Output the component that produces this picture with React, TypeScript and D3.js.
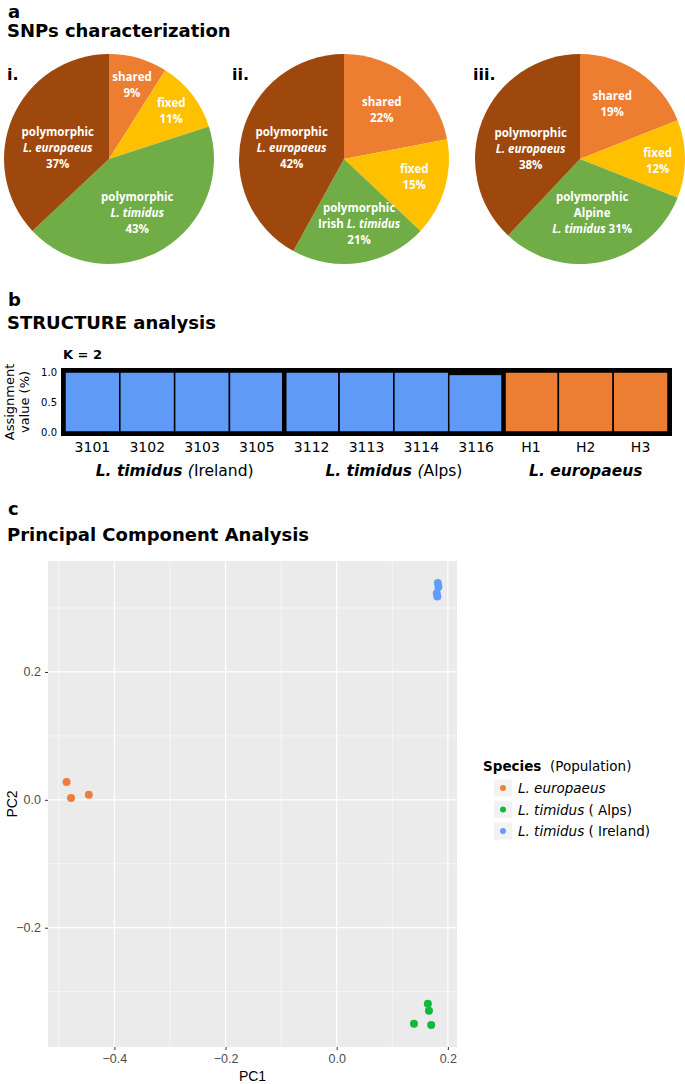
import { useEffect, useRef } from "react";
import * as d3 from "d3";

// ---------- a: SNPs characterization ----------
type Seg = { t: string; it?: boolean; b?: boolean };

const pieTitles = ["i.", "ii.", "iii."];
const sliceNames = ["shared", "fixed", "polymorphic L. timidus", "polymorphic L. europaeus"];
const pieI = [9, 11, 43, 37];
const pieII = [22, 15, 21, 42];
const pieIII = [19, 12, 31, 38];
const sliceColors = ["#ED7D31", "#FFC000", "#70AD47", "#9E480E"];

// "{p}" is replaced by the slice value
const labelsI: Seg[][][] = [
  [[{ t: "shared" }], [{ t: "{p}%" }]],
  [[{ t: "fixed" }], [{ t: "{p}%" }]],
  [[{ t: "polymorphic" }], [{ t: "L. timidus", it: true }], [{ t: "{p}%" }]],
  [[{ t: "polymorphic" }], [{ t: "L. europaeus", it: true }], [{ t: "{p}%" }]],
];
const labelsII: Seg[][][] = [
  [[{ t: "shared" }], [{ t: "{p}%" }]],
  [[{ t: "fixed" }], [{ t: "{p}%" }]],
  [[{ t: "polymorphic" }], [{ t: "Irish " }, { t: "L. timidus", it: true }], [{ t: "{p}%" }]],
  [[{ t: "polymorphic" }], [{ t: "L. europaeus", it: true }], [{ t: "{p}%" }]],
];
const labelsIII: Seg[][][] = [
  [[{ t: "shared" }], [{ t: "{p}%" }]],
  [[{ t: "fixed" }], [{ t: "{p}%" }]],
  [[{ t: "polymorphic" }], [{ t: "Alpine" }], [{ t: "L. timidus", it: true }, { t: " {p}%" }]],
  [[{ t: "polymorphic" }], [{ t: "L. europaeus", it: true }], [{ t: "{p}%" }]],
];

// ---------- b: STRUCTURE ----------
const samples = ["3101", "3102", "3103", "3105", "3112", "3113", "3114", "3116", "H1", "H2", "H3"];
const sampleGroup = [0, 0, 0, 0, 1, 1, 1, 1, 2, 2, 2];
const clusterBlue = [1, 1, 1, 1, 1, 1, 1, 0.96, 0, 0, 0];
const clusterOrange = [0, 0, 0, 0, 0, 0, 0, 0, 1, 1, 1];
const assignTicks = [0, 0.5, 1];
const groupLabels: Seg[][] = [
  [{ t: "L. timidus ", it: true, b: true }, { t: "(", it: true }, { t: "Ireland)" }],
  [{ t: "L. timidus ", it: true, b: true }, { t: "(", it: true }, { t: "Alps)" }],
  [{ t: "L. europaeus", it: true, b: true }],
];

// ---------- c: PCA ----------
const speciesNames = ["L. europaeus", "L. timidus ( Alps)", "L. timidus ( Ireland)"];
const pc1Europaeus = [-0.486, -0.478, -0.446];
const pc2Europaeus = [0.028, 0.003, 0.008];
const pc1Alps = [0.139, 0.164, 0.166, 0.17];
const pc2Alps = [-0.35, -0.319, -0.33, -0.352];
const pc1Ireland = [0.182, 0.183, 0.18, 0.181];
const pc2Ireland = [0.339, 0.333, 0.323, 0.318];
const pc1Ticks = [-0.4, -0.2, 0, 0.2];
const pc2Ticks = [-0.2, 0, 0.2];
const speciesColors = ["#F07C3E", "#12B83C", "#619CFF"];

// layout
const TITLE_FONT = "'DejaVu Sans', Verdana, sans-serif";
const PIE_FONT = "'Open Sans', sans-serif";
const GG_FONT = "'Liberation Sans', Arial, sans-serif";
const pieCx = [109, 344, 580];
const pieCy = 159;
const pieR = 105;
const numeralX = [7, 232, 473];
// [fraction of radius, angle tweak in degrees] per slice
const labelPlace = [
  [[0.74, 1], [0.75, 0], [0.58, 3], [0.5, -11]],
  [[0.59, -2], [0.69, -2], [0.64, -4], [0.51, -2.4]],
  [[0.61, -4], [0.74, 1.5], [0.53, 0], [0.48, -10]],
];

function addSegs(sel: d3.Selection<SVGTextElement, unknown, null, undefined>, segs: Seg[], p?: number) {
  segs.forEach((s) => {
    sel
      .append("tspan")
      .attr("font-style", s.it ? "italic" : "normal")
      .attr("font-weight", s.b ? "bold" : null)
      .text(p === undefined ? s.t : s.t.replace("{p}", String(p)));
  });
}

export default function App() {
  const svgRef = useRef<SVGSVGElement>(null);

  useEffect(() => {
    if (!svgRef.current) return;
    const svg = d3.select(svgRef.current);
    svg.selectAll("*").remove();

    const heading = (letter: string, title: string, y1: number, y2: number) => {
      svg.append("text").attr("x", 8).attr("y", y1).attr("font-family", TITLE_FONT)
        .attr("font-weight", "bold").attr("font-size", 18).text(letter);
      svg.append("text").attr("x", 7).attr("y", y2).attr("font-family", TITLE_FONT)
        .attr("font-weight", "bold").attr("font-size", 18).text(title);
    };

    // ===== a =====
    heading("a", "SNPs characterization", 18, 37);
    const pies = [pieI, pieII, pieIII];
    const pieLabels = [labelsI, labelsII, labelsIII];
    const pieGen = d3.pie<number>().sort(null).value((d) => d);
    const arcGen = d3.arc<d3.PieArcDatum<number>>().innerRadius(0).outerRadius(pieR);

    pies.forEach((vals, pi) => {
      svg.append("text").attr("x", numeralX[pi]).attr("y", 80).attr("font-family", TITLE_FONT)
        .attr("font-weight", "bold").attr("font-size", 16).text(pieTitles[pi]);
      const g = svg.append("g").attr("transform", `translate(${pieCx[pi]},${pieCy})`);
      const arcs = pieGen(vals);
      g.selectAll("path.slice")
        .data(arcs)
        .enter()
        .append("path")
        .attr("class", "slice")
        .attr("d", arcGen)
        .attr("fill", (_, i) => sliceColors[i])
        .append("title")
        .text((d, i) => `${sliceNames[i]}: ${d.data}%`);

      arcs.forEach((a, si) => {
        const [frac, dTheta] = labelPlace[pi][si];
        const ang = (a.startAngle + a.endAngle) / 2 + (dTheta * Math.PI) / 180;
        const r = frac * pieR;
        const lx = Math.sin(ang) * r;
        const ly = -Math.cos(ang) * r;
        const lines = pieLabels[pi][si];
        const n = lines.length;
        lines.forEach((segs, k) => {
          const t = g.append("text")
            .attr("x", lx)
            .attr("y", ly + (k - (n - 1) / 2) * 16 + 4)
            .attr("text-anchor", "middle")
            .attr("font-family", PIE_FONT)
            .attr("font-weight", "bold")
            .attr("font-size", 11.5)
            .attr("fill", "#fff");
          addSegs(t, segs, a.data);
        });
      });
    });

    // ===== b =====
    heading("b", "STRUCTURE analysis", 306, 329);
    svg.append("text").attr("x", 63).attr("y", 359).attr("font-family", TITLE_FONT)
      .attr("font-weight", "bold").attr("font-size", 13).text("K = 2");

    const plotL = 65, plotR = 668, plotT = 372, plotB = 432;
    const xs = d3.scaleBand<string>().domain(samples).range([plotL, plotR]).padding(0);
    const ys = d3.scaleLinear().domain([0, 1]).range([plotB, plotT]);

    const sg = svg.append("g");
    sg.append("rect").attr("x", plotL).attr("y", plotT).attr("width", plotR - plotL)
      .attr("height", plotB - plotT).attr("fill", "#000");

    samples.forEach((s, i) => {
      const x0 = xs(s) || 0;
      const blueTop = ys(clusterBlue[i]);
      if (clusterBlue[i] > 0) {
        sg.append("rect").attr("x", x0).attr("y", blueTop).attr("width", xs.bandwidth())
          .attr("height", plotB - blueTop).attr("fill", "#5F9AF6")
          .attr("stroke", "#000").attr("stroke-width", 1.5);
      }
      if (clusterOrange[i] > 0) {
        const oTop = ys(clusterBlue[i] + clusterOrange[i]);
        sg.append("rect").attr("x", x0).attr("y", oTop).attr("width", xs.bandwidth())
          .attr("height", blueTop - oTop).attr("fill", "#EC7E34")
          .attr("stroke", "#000").attr("stroke-width", 1.5);
      }
    });

    // group dividers and frame
    const groupIdx = d3.range(3);
    groupIdx.forEach((gi) => {
      const members = samples.filter((_, i) => sampleGroup[i] === gi);
      const gx0 = xs(members[0]) || 0;
      const gx1 = (xs(members[members.length - 1]) || 0) + xs.bandwidth();
      if (gi > 0) {
        sg.append("line").attr("x1", gx0).attr("x2", gx0).attr("y1", plotT).attr("y2", plotB)
          .attr("stroke", "#000").attr("stroke-width", 4.5);
      }
      const t = sg.append("text").attr("x", (gx0 + gx1) / 2).attr("y", 476)
        .attr("text-anchor", "middle").attr("font-family", TITLE_FONT).attr("font-size", 15.5);
      addSegs(t, groupLabels[gi]);
    });
    sg.append("rect").attr("x", plotL - 2).attr("y", plotT - 2).attr("width", plotR - plotL + 4)
      .attr("height", plotB - plotT + 4).attr("fill", "none").attr("stroke", "#000").attr("stroke-width", 4);

    sg.selectAll("text.sample")
      .data(samples)
      .enter()
      .append("text")
      .attr("class", "sample")
      .attr("x", (d) => (xs(d) || 0) + xs.bandwidth() / 2)
      .attr("y", 452)
      .attr("text-anchor", "middle")
      .attr("font-family", TITLE_FONT)
      .attr("font-size", 14)
      .text((d) => d);

    const yAxisS = sg.append("g").attr("transform", `translate(${plotL - 2},0)`)
      .call(d3.axisLeft(ys).tickValues(assignTicks).tickFormat(d3.format(".1f")).tickSize(0).tickPadding(6));
    yAxisS.select(".domain").remove();
    yAxisS.selectAll("text").attr("font-family", TITLE_FONT).attr("font-size", 10).attr("fill", "#000");

    const yt = sg.append("text").attr("transform", `translate(14,${(plotT + plotB) / 2}) rotate(-90)`)
      .attr("text-anchor", "middle").attr("font-family", TITLE_FONT).attr("font-size", 13);
    yt.append("tspan").attr("x", 0).attr("y", 0).text("Assignment");
    yt.append("tspan").attr("x", 0).attr("y", 15).text("value (%)");

    // ===== c =====
    heading("c", "Principal Component Analysis", 515, 541);
    const panelL = 48, panelR = 457, panelT = 561, panelB = 1047;
    const allX = [...pc1Europaeus, ...pc1Alps, ...pc1Ireland];
    const allY = [...pc2Europaeus, ...pc2Alps, ...pc2Ireland];
    const [xmin, xmax] = d3.extent(allX) as [number, number];
    const [ymin, ymax] = d3.extent(allY) as [number, number];
    const xpad = (xmax - xmin) * 0.05;
    const ypad = (ymax - ymin) * 0.05;
    const px = d3.scaleLinear().domain([xmin - xpad, xmax + xpad]).range([panelL, panelR]);
    const py = d3.scaleLinear().domain([ymin - ypad, ymax + ypad]).range([panelB, panelT]);

    const pg = svg.append("g");
    pg.append("rect").attr("x", panelL).attr("y", panelT).attr("width", panelR - panelL)
      .attr("height", panelB - panelT).attr("fill", "#EBEBEB");

    const minorX = d3.range(pc1Ticks.length + 1).map((i) => pc1Ticks[0] - 0.1 + i * 0.2)
      .filter((v) => v > px.domain()[0] && v < px.domain()[1]);
    const minorY = d3.range(pc2Ticks.length + 1).map((i) => pc2Ticks[0] - 0.1 + i * 0.2)
      .filter((v) => v > py.domain()[0] && v < py.domain()[1]);

    pg.selectAll("line.minx").data(minorX).enter().append("line")
      .attr("x1", (d) => px(d)).attr("x2", (d) => px(d)).attr("y1", panelT).attr("y2", panelB)
      .attr("stroke", "#fff").attr("stroke-width", 0.6);
    pg.selectAll("line.miny").data(minorY).enter().append("line")
      .attr("y1", (d) => py(d)).attr("y2", (d) => py(d)).attr("x1", panelL).attr("x2", panelR)
      .attr("stroke", "#fff").attr("stroke-width", 0.6);
    pg.selectAll("line.majx").data(pc1Ticks).enter().append("line")
      .attr("x1", (d) => px(d)).attr("x2", (d) => px(d)).attr("y1", panelT).attr("y2", panelB)
      .attr("stroke", "#fff").attr("stroke-width", 1.2);
    pg.selectAll("line.majy").data(pc2Ticks).enter().append("line")
      .attr("y1", (d) => py(d)).attr("y2", (d) => py(d)).attr("x1", panelL).attr("x2", panelR)
      .attr("stroke", "#fff").attr("stroke-width", 1.2);

    const series = [
      { xs: pc1Europaeus, ys: pc2Europaeus },
      { xs: pc1Alps, ys: pc2Alps },
      { xs: pc1Ireland, ys: pc2Ireland },
    ];
    series.forEach((s, si) => {
      pg.selectAll(`circle.s${si}`)
        .data(s.xs.map((v, i) => [v, s.ys[i]]))
        .enter()
        .append("circle")
        .attr("cx", (d) => px(d[0]))
        .attr("cy", (d) => py(d[1]))
        .attr("r", 4)
        .attr("fill", speciesColors[si]);
    });

    const fmt = d3.format(".1f");
    const xAxis = pg.append("g").attr("transform", `translate(0,${panelB})`)
      .call(d3.axisBottom(px).tickValues(pc1Ticks).tickFormat((d) => fmt(d as number)).tickSize(3).tickPadding(4));
    const yAxis = pg.append("g").attr("transform", `translate(${panelL},0)`)
      .call(d3.axisLeft(py).tickValues(pc2Ticks).tickFormat((d) => fmt(d as number)).tickSize(3).tickPadding(4));
    [xAxis, yAxis].forEach((ax) => {
      ax.select(".domain").remove();
      ax.selectAll(".tick line").attr("stroke", "#333").attr("stroke-width", 1);
      ax.selectAll("text").attr("font-family", GG_FONT).attr("font-size", 12.5).attr("fill", "#4D4D4D");
    });

    pg.append("text").attr("x", (panelL + panelR) / 2).attr("y", 1081).attr("text-anchor", "middle")
      .attr("font-family", GG_FONT).attr("font-size", 14).text("PC1");
    pg.append("text").attr("transform", `translate(17,${(panelT + panelB) / 2}) rotate(-90)`)
      .attr("text-anchor", "middle").attr("font-family", GG_FONT).attr("font-size", 14).text("PC2");

    // legend
    const lg = pg.append("g");
    const lt = lg.append("text").attr("x", 483).attr("y", 771).attr("font-family", TITLE_FONT).attr("font-size", 13.5);
    lt.append("tspan").attr("font-weight", "bold").text("Species");
    lt.append("tspan").text("  (Population)").attr("xml:space", "preserve");
    speciesNames.forEach((name, i) => {
      const cy = 788 + i * 21.5;
      lg.append("rect").attr("x", 494).attr("y", cy - 8.5).attr("width", 18).attr("height", 17).attr("fill", "#F2F2F2");
      lg.append("circle").attr("cx", 503).attr("cy", cy).attr("r", 3).attr("fill", speciesColors[i]);
      const parts = name.split(" (");
      const t = lg.append("text").attr("x", 518).attr("y", cy + 5).attr("font-family", TITLE_FONT).attr("font-size", 13.5);
      addSegs(t, parts.length > 1 ? [{ t: parts[0], it: true }, { t: " (" + parts[1] }] : [{ t: name, it: true }]);
    });
  }, []);

  return (
    <svg
      ref={svgRef}
      width={685}
      height={1084}
      style={{ position: "absolute", left: 0, top: 0, background: "#fff" }}
    />
  );
}
